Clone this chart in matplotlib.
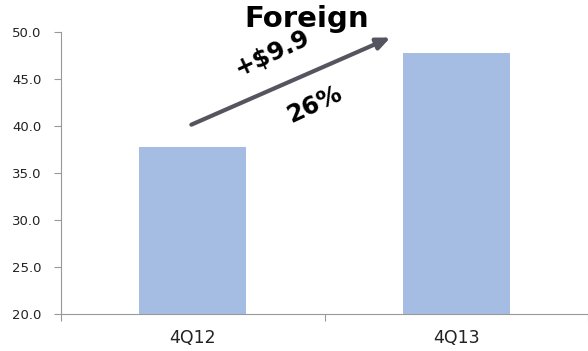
import matplotlib.pyplot as plt
import numpy as np

# Foreign revenue, $ (4Q12 vs 4Q13)
categories = ['4Q12', '4Q13']
values = [37.8, 47.7]
change_label = '+$9.9'
pct_label = '26%'
title = 'Foreign'

fig = plt.figure(figsize=(5.88, 3.51), dpi=100)
ax = fig.add_axes([61 / 588, 1 - 314 / 351, 1 - 61 / 588, (314 - 31.7) / 351])

x = np.arange(len(categories))
ax.bar(x, values, width=0.405, color='#a5bde2', linewidth=0, zorder=2)

ax.set_xlim(-0.5, 1.5)
ax.set_ylim(20, 50)
ax.set_yticks(np.arange(20, 50.1, 5))
ax.set_yticklabels([f'{v:.1f}' for v in np.arange(20, 50.1, 5)], fontsize=9.5, color='#222222')

# categories as labels, boundaries as tick marks
ax.set_xticks([-0.5, 0.5, 1.5])
ax.set_xticklabels([])
ax.set_xticks(x, minor=True)
ax.set_xticklabels(categories, minor=True, fontsize=12.5, color='#222222')
ax.tick_params(axis='x', which='minor', length=0, pad=11)
ax.tick_params(axis='x', which='major', length=5, color='#999999')
ax.tick_params(axis='y', length=5, color='#999999', pad=9)

for s in ['top', 'right']:
    ax.spines[s].set_visible(False)
for s in ['left', 'bottom']:
    ax.spines[s].set_color('#999999')

# growth arrow and labels
ax.annotate('', xy=(0.76, 49.5), xytext=(-0.015, 40.0),
            arrowprops=dict(arrowstyle='-|>,head_length=0.8,head_width=0.35',
                            color='#555560', lw=3), annotation_clip=False)
ax.text(0.432, 51.3, title, fontsize=21, fontweight='bold', ha='center', va='center',
        clip_on=False)
ax.text(0.30, 47.7, change_label, fontsize=17.5, fontweight='bold', ha='center', va='center',
        rotation=25, rotation_mode='anchor')
ax.text(0.462, 42.3, pct_label, fontsize=17.5, fontweight='bold', ha='center', va='center',
        rotation=25, rotation_mode='anchor')

fig.savefig('out.png', dpi=100)
